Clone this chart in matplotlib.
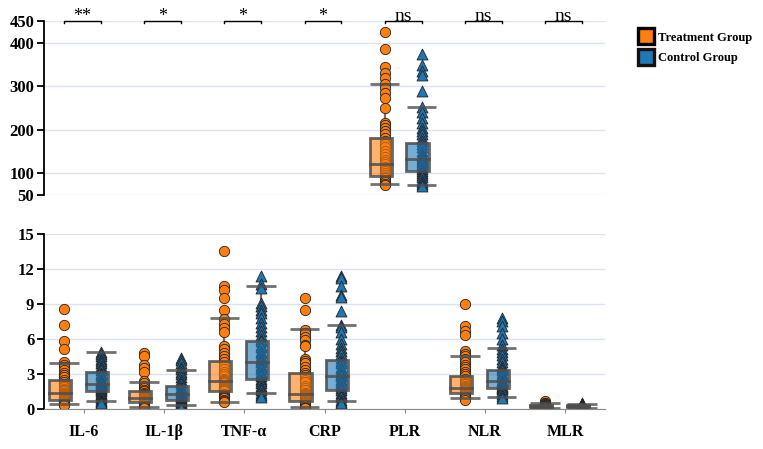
import matplotlib

matplotlib.use("Agg")
import matplotlib.pyplot as plt
from matplotlib.lines import Line2D
from matplotlib.patches import Rectangle

plt.rcParams["font.family"] = ["Liberation Serif", "DejaVu Serif"]

CATEGORIES = ["IL-6", "IL-1β", "TNF-α", "CRP", "PLR", "NLR", "MLR"]
SIGNIF = ["**", "*", "*", "*", "ns", "ns", "ns"]

# box stats: q1, median, q3, lower cap, upper cap
TREAT_BOX = [
    (0.77, 1.34, 2.50, 0.43, 3.90),
    (0.57, 0.97, 1.54, 0.20, 2.31),
    (1.57, 2.43, 4.14, 0.63, 7.83),
    (0.69, 1.26, 3.11, 0.20, 6.83),
    (94, 120.6, 180, 74.5, 305),
    (1.40, 1.83, 2.80, 0.91, 4.54),
    (0.18, 0.27, 0.36, 0.10, 0.52),
]
CTRL_BOX = [
    (1.54, 2.17, 3.15, 0.71, 4.91),
    (0.77, 1.26, 1.94, 0.31, 3.34),
    (2.54, 4.06, 5.83, 1.37, 10.57),
    (1.63, 2.86, 4.17, 0.71, 7.20),
    (105, 133, 170, 73, 252),
    (1.80, 2.40, 3.31, 1.06, 5.23),
    (0.16, 0.24, 0.33, 0.08, 0.45),
]

TREAT_PTS = [
    [8.6, 7.2, 5.8, 5.1, 4.0, 3.8, 3.6, 3.3, 3.1, 2.9, 2.7, 2.5, 2.3, 2.1, 2.0, 1.9, 1.7, 1.6,
     1.5, 1.4, 1.35, 1.3, 1.2, 1.1, 1.0, 0.95, 0.9, 0.85, 0.8, 0.75, 0.7, 0.6, 0.5, 0.45, 0.4, 0.35],
    [4.8, 4.5, 3.8, 3.5, 3.2, 2.4, 2.2, 2.0, 1.8, 1.6, 1.5, 1.4, 1.3, 1.2, 1.1, 1.0, 0.95, 0.9,
     0.85, 0.8, 0.7, 0.65, 0.6, 0.55, 0.5, 0.4, 0.3, 0.2, 0.1],
    [13.5, 10.5, 10.2, 9.5, 8.5, 7.7, 7.3, 6.9, 6.6, 5.4, 5.1, 4.8, 4.5, 4.3, 4.0, 3.7, 3.4, 3.2,
     3.0, 2.8, 2.6, 2.5, 2.4, 2.3, 2.2, 2.0, 1.9, 1.8, 1.7, 1.6, 1.5, 1.3, 1.1, 1.0, 0.9, 0.8, 0.7, 0.6],
    [9.5, 8.5, 6.8, 6.5, 6.2, 5.9, 5.5, 5.4, 4.3, 4.1, 3.9, 3.6, 3.3, 3.1, 2.9, 2.7, 2.5, 2.3,
     2.0, 1.8, 1.6, 1.4, 1.3, 1.2, 1.1, 1.0, 0.9, 0.8, 0.7, 0.6, 0.5, 0.4, 0.3, 0.2, 0.1, 0.05],
    [425, 385, 345, 330, 320, 305, 295, 285, 272, 250, 215, 210, 205, 198, 190, 182, 175, 168,
     160, 152, 145, 138, 130, 125, 120, 115, 110, 105, 100, 96, 92, 88, 84, 80, 76, 72],
    [9.0, 7.1, 6.7, 6.3, 5.0, 4.7, 4.5, 4.3, 4.0, 3.8, 3.6, 3.4, 3.2, 3.0, 2.8, 2.6, 2.4, 2.2,
     2.1, 2.0, 1.9, 1.8, 1.7, 1.6, 1.5, 1.4, 1.3, 1.2, 1.1, 1.0, 0.9, 0.8],
    [0.65, 0.55, 0.5, 0.45, 0.4, 0.35, 0.3, 0.28, 0.25, 0.22, 0.2, 0.18, 0.15, 0.12, 0.1],
]
CTRL_PTS = [
    [4.9, 4.7, 4.5, 4.3, 4.1, 3.9, 3.7, 3.5, 3.3, 3.1, 3.0, 2.8, 2.6, 2.5, 2.4, 2.3, 2.2, 2.15,
     2.1, 2.0, 1.9, 1.8, 1.7, 1.6, 1.5, 1.4, 1.3, 1.2, 1.0, 0.9, 0.8, 0.7, 0.6, 0.5],
    [4.4, 4.2, 3.9, 3.6, 3.4, 3.2, 3.0, 2.7, 2.5, 2.3, 2.1, 1.9, 1.8, 1.6, 1.5, 1.4, 1.3, 1.25,
     1.2, 1.1, 1.0, 0.9, 0.8, 0.75, 0.7, 0.6, 0.5, 0.4, 0.3, 0.2, 0.1],
    [11.4, 10.7, 10.4, 9.1, 8.8, 8.5, 8.2, 7.8, 7.4, 7.0, 6.7, 6.3, 6.0, 5.8, 5.5, 5.3, 5.0, 4.8,
     4.5, 4.3, 4.1, 4.0, 3.8, 3.6, 3.4, 3.2, 3.0, 2.8, 2.6, 2.4, 2.2, 2.0, 1.8, 1.6, 1.4, 1.2, 1.0],
    [11.4, 11.2, 10.5, 9.8, 9.6, 8.4, 7.2, 7.0, 6.6, 6.0, 5.6, 5.2, 5.0, 4.7, 4.4, 4.1, 3.9, 3.6,
     3.4, 3.2, 3.0, 2.9, 2.8, 2.6, 2.4, 2.2, 2.0, 1.8, 1.6, 1.4, 1.2, 1.0, 0.8, 0.6, 0.5],
    [375, 350, 335, 325, 290, 252, 240, 228, 215, 205, 198, 190, 182, 175, 168, 160, 152, 145,
     140, 135, 130, 125, 120, 115, 110, 105, 100, 95, 90, 85, 80, 75, 70],
    [7.8, 7.5, 7.1, 6.5, 6.0, 5.5, 5.1, 4.9, 4.6, 4.3, 4.0, 3.7, 3.5, 3.3, 3.1, 2.9, 2.7, 2.5,
     2.4, 2.3, 2.2, 2.1, 2.0, 1.9, 1.8, 1.7, 1.5, 1.3, 1.1, 0.9],
    [0.55, 0.45, 0.4, 0.35, 0.3, 0.27, 0.25, 0.22, 0.2, 0.18, 0.15, 0.12, 0.1, 0.05],
]

ORANGE = "#ff7f0e"
BLUE = "#1f77b4"
GRID = "#dde2f2"
EDGE = "#4d4d4d"

BOX_W = 0.275
CAP_W = 0.37


def draw_group(ax, x, stats, pts, color, marker):
    q1, med, q3, lo, hi = stats
    px = x + 0.05
    # whisker stems and caps
    ax.plot([px, px], [lo, q1], color=EDGE, lw=1.6, alpha=0.8, zorder=1)
    ax.plot([px, px], [q3, hi], color=EDGE, lw=1.6, alpha=0.8, zorder=1)
    for v in (lo, hi):
        ax.plot([px - CAP_W / 2, px + CAP_W / 2], [v, v], color=EDGE, lw=2, alpha=0.8,
                zorder=4, solid_capstyle="butt")
    ax.scatter([px] * len(pts), pts, s=55 if marker == "o" else 62, marker=marker,
               color=color, edgecolor="#222222", linewidth=0.6, zorder=2)
    ax.add_patch(Rectangle((x - BOX_W / 2, q1), BOX_W, q3 - q1, facecolor=color, alpha=0.6,
                           edgecolor="none", zorder=3))
    ax.add_patch(Rectangle((x - BOX_W / 2, q1), BOX_W, q3 - q1, facecolor="none",
                           edgecolor=EDGE, lw=2, alpha=0.85, zorder=4))
    ax.plot([x - BOX_W / 2, x + BOX_W / 2], [med, med], color=EDGE, lw=2, alpha=0.85, zorder=4)


fig = plt.figure(figsize=(7.63, 4.49), dpi=100)
ax_top = fig.add_axes([0.0577, 0.566, 0.7353, 0.387])
ax_bot = fig.add_axes([0.0577, 0.0891, 0.7353, 0.3899])

for ax in (ax_top, ax_bot):
    for i in range(len(CATEGORIES)):
        draw_group(ax, i - 0.30, TREAT_BOX[i], TREAT_PTS[i], ORANGE, "o")
        draw_group(ax, i + 0.16, CTRL_BOX[i], CTRL_PTS[i], BLUE, "^")
    ax.set_xlim(-0.5, len(CATEGORIES) - 0.5)
    ax.set_axisbelow(True)
    ax.grid(axis="y", color=GRID, lw=1)
    for s in ("top", "right"):
        ax.spines[s].set_visible(False)
    ax.spines["left"].set_linewidth(1.3)
    ax.tick_params(axis="y", length=5, width=1.3, labelsize=12, pad=2)

ax_top.set_ylim(50, 450)
ax_top.set_yticks([50, 100, 200, 300, 400, 450])
ax_top.set_yticklabels(["50", "100", "200", "300", "400", "450"], fontweight="bold")
ax_top.spines["bottom"].set_visible(False)
ax_top.set_xticks([])

ax_bot.set_ylim(0, 15)
ax_bot.set_yticks([0, 3, 6, 9, 12, 15])
ax_bot.set_yticklabels(["0", "3", "6", "9", "12", "15"], fontweight="bold")
ax_bot.spines["bottom"].set_color("#8a8a8a")
ax_bot.set_xticks(range(len(CATEGORIES)))
ax_bot.set_xticklabels(CATEGORIES, fontweight="bold", fontsize=11.5)
ax_bot.tick_params(axis="x", length=3, color="#8a8a8a", pad=8)

# significance brackets
for i, lab in enumerate(SIGNIF):
    x0, x1 = i - 0.25, i + 0.21
    ax_top.plot([x0, x0, x1, x1], [446, 450, 450, 446], color="black", lw=1, clip_on=False)
    ax_top.text((x0 + x1) / 2, 451, lab, ha="center", va="baseline",
                fontsize=14 if lab == "ns" else 13, clip_on=False)

handles = [
    Line2D([], [], marker="s", linestyle="none", markersize=12, markerfacecolor=ORANGE,
           markeredgecolor="black", markeredgewidth=2.4, label="Treatment Group"),
    Line2D([], [], marker="s", linestyle="none", markersize=12, markerfacecolor=BLUE,
           markeredgecolor="#1a0f0f", markeredgewidth=2.4, label="Control Group"),
]
fig.legend(handles=handles, loc="upper left", bbox_to_anchor=(0.834, 0.935), frameon=False,
           prop={"weight": "bold", "size": 9}, handletextpad=0.35, labelspacing=0.7,
           handlelength=1.2, borderaxespad=0, borderpad=0.2)

fig.savefig("out.png", dpi=100)
